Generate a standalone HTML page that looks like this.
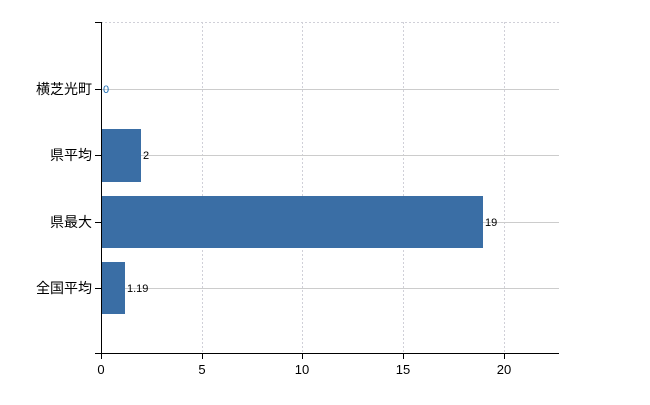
<!DOCTYPE html>
<html><head><meta charset="utf-8"><style>
body{margin:0;background:#fff;}
svg text{font-family:"Liberation Sans","Noto Sans CJK JP",sans-serif;}
</style></head><body>
<svg width="650" height="400" xmlns="http://www.w3.org/2000/svg">
<g stroke="#d0d0d8" stroke-dasharray="2,2" stroke-width="1">
<line x1="202.5" y1="22" x2="202.5" y2="354"/>
<line x1="302.5" y1="22" x2="302.5" y2="354"/>
<line x1="403.5" y1="22" x2="403.5" y2="354"/>
<line x1="504.5" y1="22" x2="504.5" y2="354"/>
<line x1="101" y1="22.5" x2="559" y2="22.5"/>
</g>
<g stroke="#cccccc" stroke-width="1">
<line x1="101" y1="89.5" x2="559" y2="89.5"/>
<line x1="101" y1="155.5" x2="559" y2="155.5"/>
<line x1="101" y1="222.5" x2="559" y2="222.5"/>
<line x1="101" y1="288.5" x2="559" y2="288.5"/>
</g>
<g fill="#3a6ea5">
<rect x="101" y="129" width="40" height="53"/>
<rect x="101" y="196" width="382" height="52"/>
<rect x="101" y="262" width="24" height="52"/>
</g>
<g stroke="#000" stroke-width="1">
<line x1="101.5" y1="22" x2="101.5" y2="354"/>
<line x1="95" y1="22.5" x2="101" y2="22.5"/>
<line x1="95" y1="89.5" x2="101" y2="89.5"/>
<line x1="95" y1="155.5" x2="101" y2="155.5"/>
<line x1="95" y1="222.5" x2="101" y2="222.5"/>
<line x1="95" y1="288.5" x2="101" y2="288.5"/>
<line x1="95" y1="353.5" x2="559" y2="353.5"/>
<line x1="101.5" y1="354" x2="101.5" y2="359"/>
<line x1="202.5" y1="354" x2="202.5" y2="359"/>
<line x1="302.5" y1="354" x2="302.5" y2="359"/>
<line x1="403.5" y1="354" x2="403.5" y2="359"/>
<line x1="504.5" y1="354" x2="504.5" y2="359"/>
</g>
<g font-size="14" text-anchor="end" fill="#000">
<text x="92" y="94">横芝光町</text>
<text x="92" y="160">県平均</text>
<text x="92" y="227">県最大</text>
<text x="92" y="293">全国平均</text>
</g>
<g font-size="13" text-anchor="middle" fill="#000">
<text x="101" y="374">0</text>
<text x="202" y="374">5</text>
<text x="302" y="374">10</text>
<text x="403" y="374">15</text>
<text x="504" y="374">20</text>
</g>
<g font-size="11" fill="#000">
<text x="103" y="93" fill="#1a6ab0">0</text>
<text x="143" y="159">2</text>
<text x="485" y="226">19</text>
<text x="127" y="292">1.19</text>
</g>
</svg>
</body></html>
